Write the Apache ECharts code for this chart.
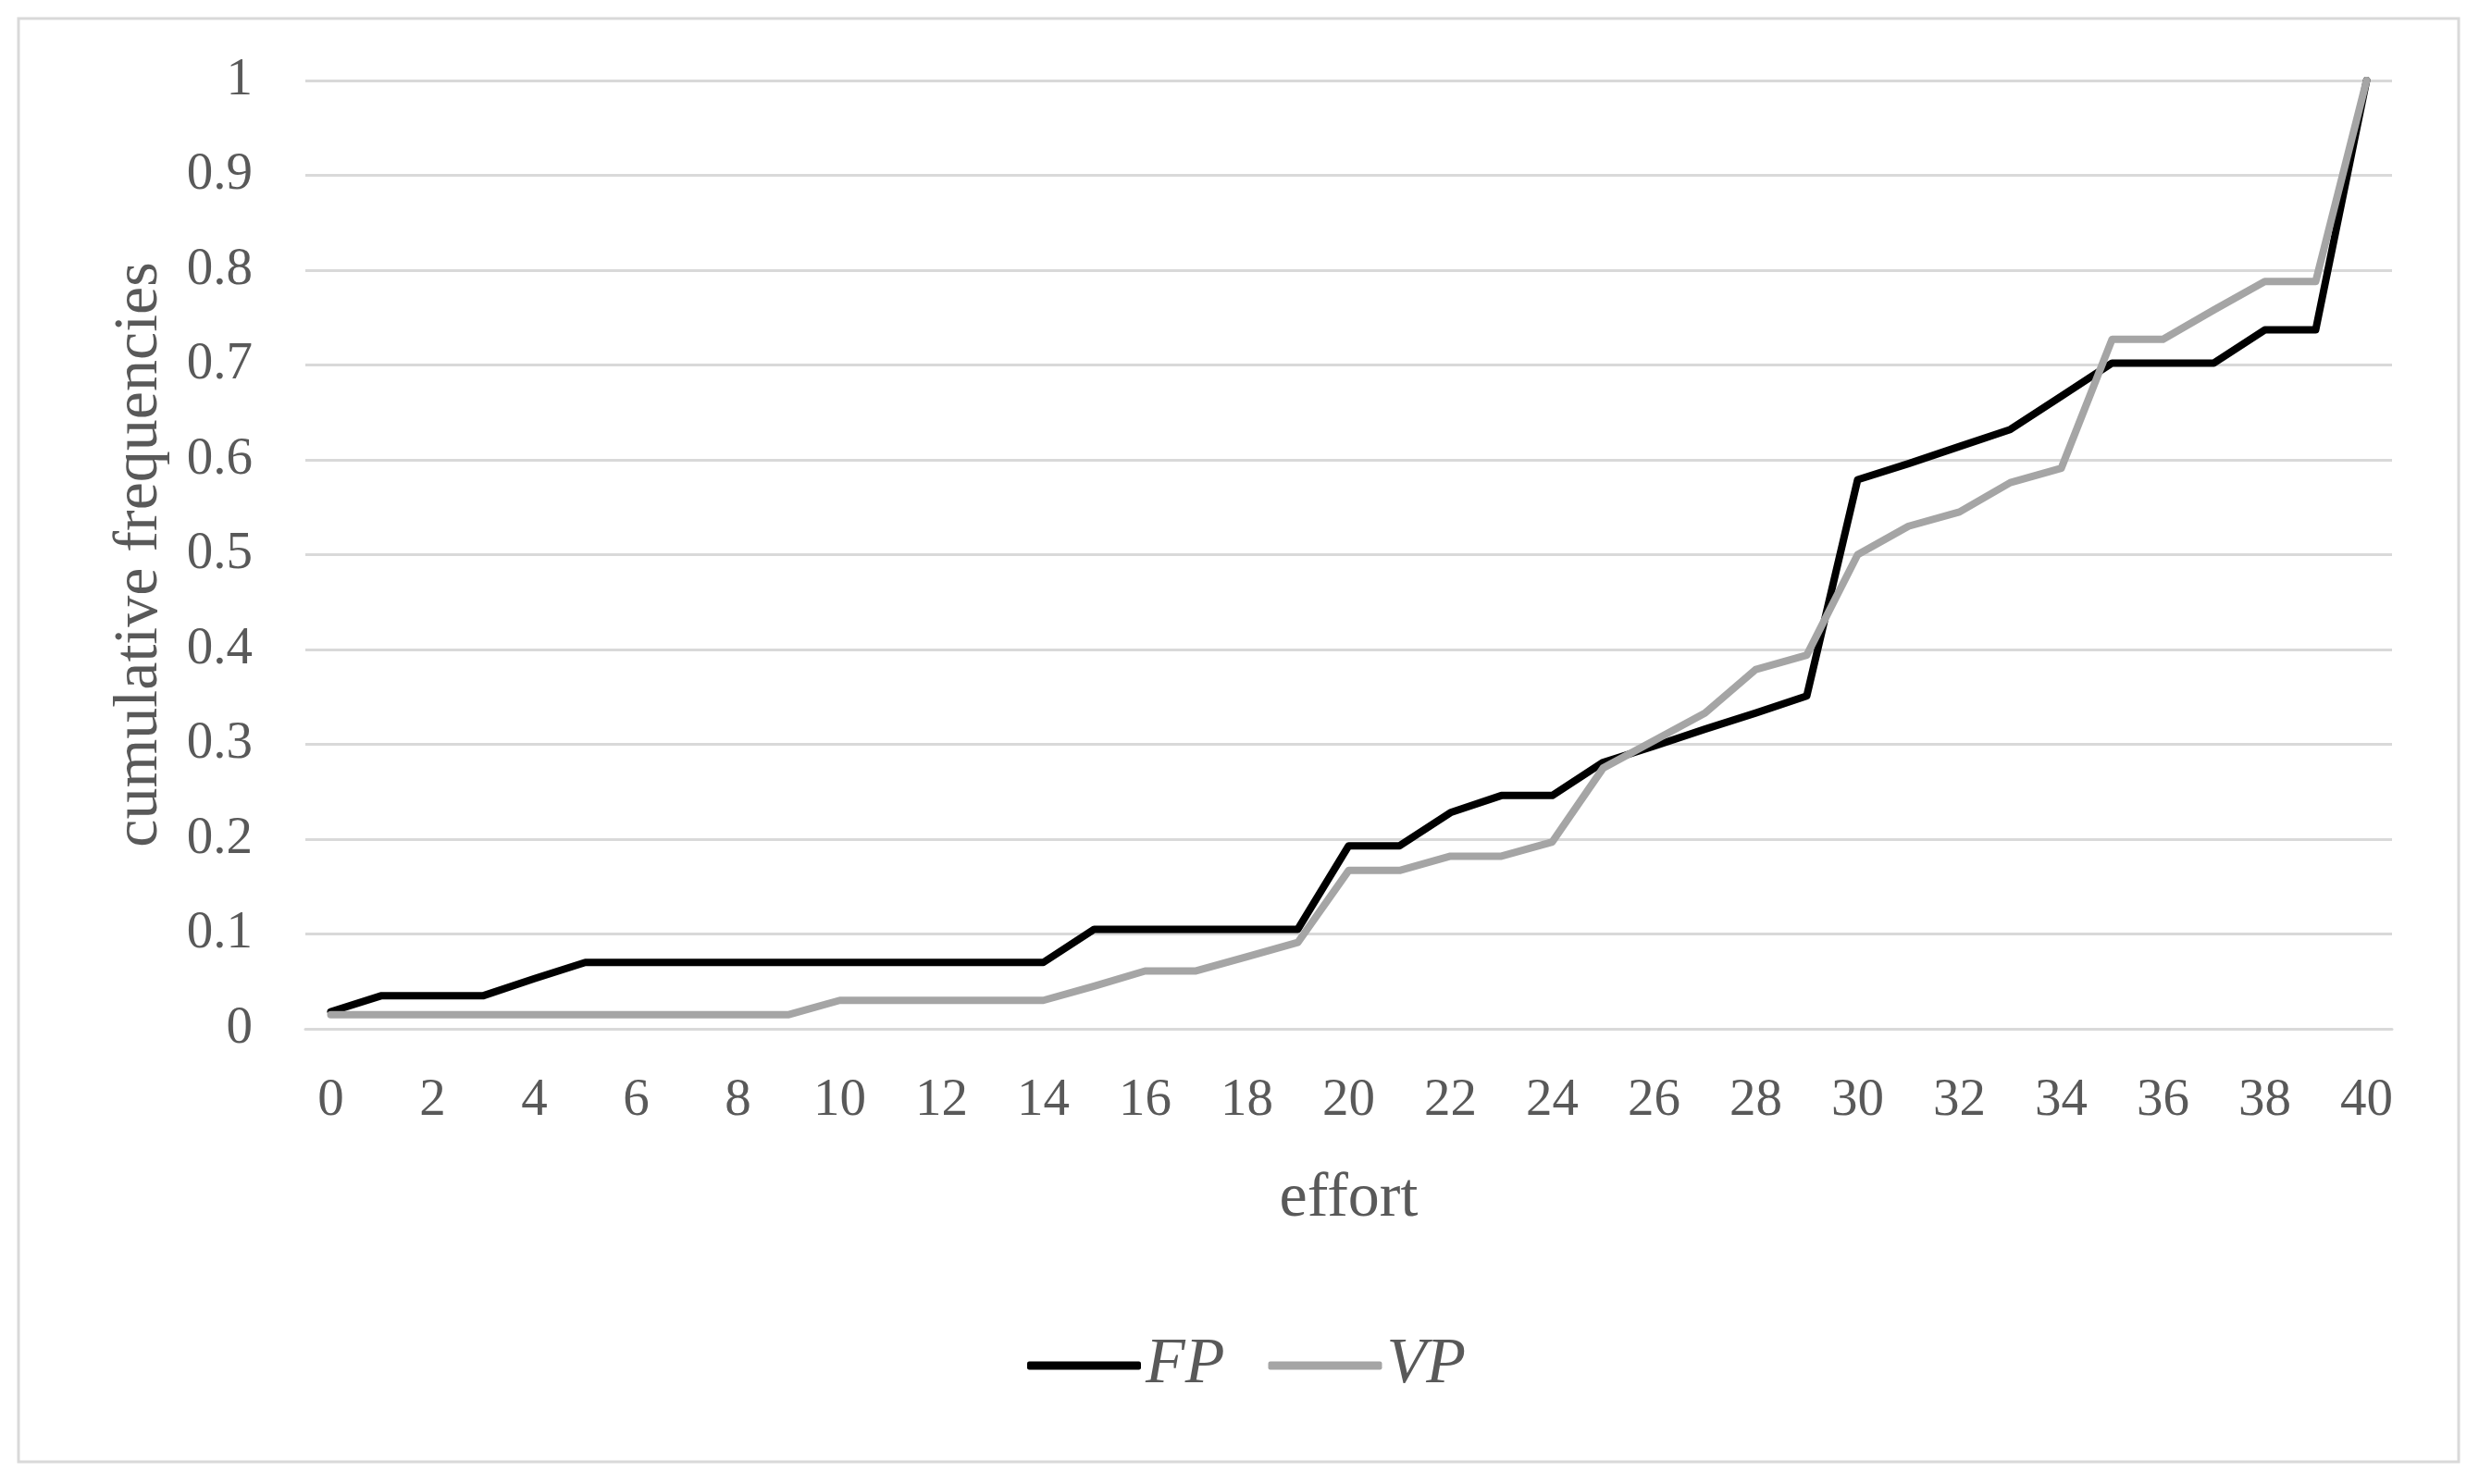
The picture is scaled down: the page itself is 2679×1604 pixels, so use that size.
<!DOCTYPE html>
<html>
<head>
<meta charset="utf-8">
<script src="https://cdn.jsdelivr.net/npm/echarts@6/dist/echarts.min.js"></script>
<style>
html,body{margin:0;padding:0;background:#fff;}
#chart{width:2679px;height:1604px;}
</style>
</head>
<body>
<div id="chart"></div>
<script>
const categories = ['0','1','2','3','4','5','6','7','8','9','10','11','12','13','14','15','16','17','18','19','20','21','22','23','24','25','26','27','28','29','30','31','32','33','34','35','36','37','38','39','40'];
const fpValues = [0.018,0.035,0.035,0.035,0.053,0.070,0.070,0.070,0.070,0.070,
                  0.070,0.070,0.070,0.070,0.070,0.105,0.105,0.105,0.105,0.105,
                  0.193,0.193,0.228,0.246,0.246,0.281,0.298,0.316,0.333,0.351,
                  0.579,0.596,0.614,0.632,0.667,0.702,0.702,0.702,0.737,0.737,
                  1.000];
const vpValues = [0.015,0.015,0.015,0.015,0.015,0.015,0.015,0.015,0.015,0.015,
                  0.030,0.030,0.030,0.030,0.030,0.045,0.061,0.061,0.076,0.091,
                  0.167,0.167,0.182,0.182,0.197,0.275,0.304,0.333,0.379,0.394,
                  0.500,0.530,0.545,0.576,0.591,0.727,0.727,0.758,0.788,0.788,
                  1.000];
const seriesNames = ['FP','VP'];
const xTitle = 'effort';
const yTitle = 'cumulative frequencies';

const FONT = '"Liberation Serif", "DejaVu Serif", serif';
const TEXT = '#595959';
const GRID = '#d9d9d9';

const chart = echarts.init(document.getElementById('chart'));
chart.setOption({
  backgroundColor: '#ffffff',
  animation: false,
  graphic: [{
    type: 'rect',
    shape: { x: 20, y: 20, width: 2637, height: 1560 },
    style: { fill: 'none', stroke: GRID, lineWidth: 3 },
    silent: true
  }],
  grid: { left: 330, right: 94, top: 87, bottom: 492 },
  legend: {
    data: seriesNames,
    left: 1105,
    top: 1436,
    icon: 'roundRect',
    itemWidth: 123,
    itemHeight: 9,
    itemGap: 47,
    textStyle: { fontFamily: FONT, fontSize: 70, fontStyle: 'italic', color: TEXT }
  },
  xAxis: {
    type: 'category',
    data: categories,
    boundaryGap: true,
    name: xTitle,
    nameLocation: 'middle',
    nameGap: 150,
    nameTextStyle: { fontFamily: FONT, fontSize: 68, color: TEXT },
    axisLine: { show: true, lineStyle: { color: GRID, width: 3 } },
    axisTick: { show: false },
    axisLabel: { interval: 1, margin: 50, fontFamily: FONT, fontSize: 57, color: TEXT },
    splitLine: { show: false }
  },
  yAxis: {
    type: 'value',
    min: 0,
    max: 1,
    interval: 0.1,
    name: yTitle,
    nameLocation: 'middle',
    nameGap: 145,
    nameTextStyle: { fontFamily: FONT, fontSize: 68, color: TEXT },
    axisLine: { show: false },
    axisTick: { show: false },
    axisLabel: { margin: 57, fontFamily: FONT, fontSize: 57, color: TEXT },
    splitLine: { show: true, lineStyle: { color: GRID, width: 3 } }
  },
  series: [
    {
      name: seriesNames[0],
      type: 'line',
      data: fpValues,
      symbol: 'none',
      lineStyle: { color: '#000000', width: 8, cap: 'round', join: 'round' },
      itemStyle: { color: '#000000' }
    },
    {
      name: seriesNames[1],
      type: 'line',
      data: vpValues,
      symbol: 'none',
      lineStyle: { color: '#a5a5a5', width: 8, cap: 'round', join: 'round' },
      itemStyle: { color: '#a5a5a5' }
    }
  ]
});
</script>
</body>
</html>
